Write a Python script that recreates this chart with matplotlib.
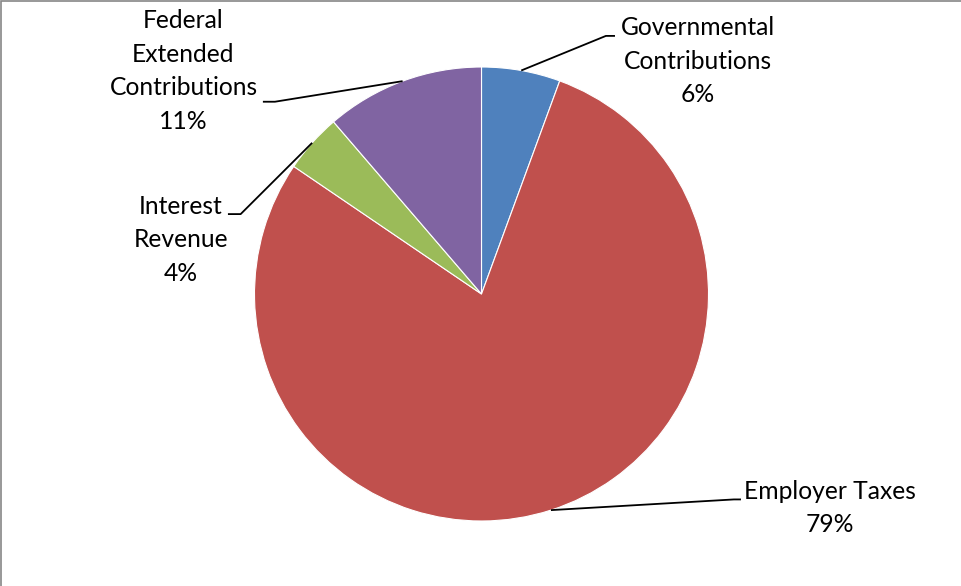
import numpy as np
import matplotlib
matplotlib.use("Agg")
import matplotlib.pyplot as plt
from matplotlib.patches import Rectangle

# data
labels = ["Governmental\nContributions", "Employer Taxes", "Interest\nRevenue", "Federal\nExtended\nContributions"]
shares = [5.6, 78.9, 4.2, 11.3]
pct_text = ["6%", "79%", "4%", "11%"]
colors = ["#4F81BD", "#C0504D", "#9BBB59", "#8064A2"]

# label placement (data units, pie radius = 1)
text_pos = [(0.954, 1.026), (1.535, -0.943), (-1.324, 0.238), (-1.313, 0.982)]
elbow_pos = [(0.548, 1.137), (1.112, -0.905), (-1.061, 0.352), (-0.910, 0.847)]
end_pos = [(0.588, 1.137), (1.143, -0.905), (-1.117, 0.352), (-0.963, 0.847)]

plt.rcParams["font.family"] = ["Lato", "DejaVu Sans"]

W, H = 961, 586
cx, cy, R = 481.5, 294, 227

fig = plt.figure(figsize=(W / 100, H / 100), dpi=100)
ax = fig.add_axes([0, 0, 1, 1])

wedges, _ = ax.pie(shares, colors=colors, startangle=90, counterclock=False,
                   radius=1, center=(0, 0), frame=True,
                   wedgeprops=dict(edgecolor="white", linewidth=0.8))
ax.set_aspect("auto")
ax.set_xlim(-cx / R, (W - cx) / R)
ax.set_ylim(-(H - cy) / R, cy / R)
ax.axis("off")

for w, lab, pct, tp, ep, en in zip(wedges, labels, pct_text, text_pos, elbow_pos, end_pos):
    mid = np.deg2rad((w.theta1 + w.theta2) / 2)
    sx, sy = np.cos(mid), np.sin(mid)
    ax.plot([sx, ep[0], en[0]], [sy, ep[1], en[1]], color="black", lw=1.3,
            solid_capstyle="butt")
    ax.text(tp[0], tp[1], lab + "\n" + pct, ha="center", va="center",
            multialignment="center", fontsize=17.7, linespacing=1.55, color="black")

fig.patches.append(Rectangle((0.5 / W, -0.5), 2, 1.5 - 0.5 / H, transform=fig.transFigure,
                             fill=False, edgecolor="#868686", lw=1.2))

fig.savefig("out.png", dpi=100)
